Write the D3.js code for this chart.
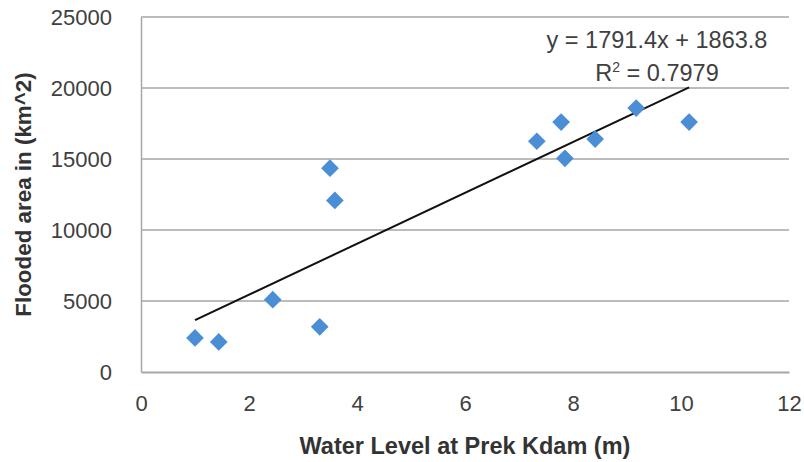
<!DOCTYPE html>
<html>
<head>
<meta charset="utf-8">
<script src="https://cdn.jsdelivr.net/npm/d3@7"></script>
<style>
  body { margin: 0; background: #fff; }
  text { font-family: "Liberation Sans", Arial, sans-serif; }
</style>
</head>
<body>
<div id="plot"></div>
<script>
const width = 804;
const height = 462;
const margin = { top: 17, right: 15, bottom: 90, left: 141 };

// Water level (m) vs flooded area (km^2)
const waterLevel = [1.0, 1.44, 2.44, 3.31, 3.5, 3.59, 7.33, 7.78, 7.85, 8.41, 9.17, 10.15];
const floodedArea = [2400, 2120, 5090, 3180, 14350, 12085, 16250, 17600, 15050, 16400, 18590, 17600];

const xTicks = [0, 2, 4, 6, 8, 10, 12];
const yTicks = [0, 5000, 10000, 15000, 20000, 25000];

// trendline reported in the chart
const slope = 1791.4;
const intercept = 1863.8;
const eqLabel = "y = 1791.4x + 1863.8";
const r2Label = "0.7979";

const svg = d3.select("#plot").append("svg").attr("width", width).attr("height", height);

const x = d3.scaleLinear().domain([0, 12]).range([margin.left, width - margin.right]);
const y = d3.scaleLinear().domain([0, 25000]).range([height - margin.bottom, margin.top]);

// gridlines
svg.append("g")
    .selectAll("line")
    .data(yTicks.slice(1))
    .enter().append("line")
    .attr("x1", x(0)).attr("x2", x(12))
    .attr("y1", d => y(d)).attr("y2", d => y(d))
    .attr("stroke", "#a6a6a6")
    .attr("stroke-width", 1.5);

// y axis
const yAxis = svg.append("g")
    .attr("transform", `translate(${x(0)},0)`)
    .call(d3.axisLeft(y).tickValues(yTicks).tickFormat(d3.format("d")).tickSize(0).tickPadding(29));
yAxis.select(".domain").attr("stroke", "#a6a6a6").attr("stroke-width", 1.5);
yAxis.selectAll("text").attr("font-size", 22).attr("fill", "#404040")
    .attr("font-family", "Liberation Sans, Arial, sans-serif");

// x axis
const xAxis = svg.append("g")
    .attr("transform", `translate(0,${y(0)})`)
    .call(d3.axisBottom(x).tickValues(xTicks).tickSize(0).tickPadding(23));
xAxis.select(".domain").attr("stroke", "#a6a6a6").attr("stroke-width", 2);
xAxis.selectAll("text").attr("font-size", 22).attr("fill", "#404040")
    .attr("font-family", "Liberation Sans, Arial, sans-serif");

// trend line
const xMin = d3.min(waterLevel), xMax = d3.max(waterLevel);
svg.append("line")
    .attr("x1", x(xMin)).attr("y1", y(slope * xMin + intercept))
    .attr("x2", x(xMax)).attr("y2", y(slope * xMax + intercept))
    .attr("stroke", "#111")
    .attr("stroke-width", 2);

// points
const pts = waterLevel.map((v, i) => ({ x: v, y: floodedArea[i] }));
svg.selectAll(".dot").data(pts).enter()
    .append("path")
    .attr("class", "dot")
    .attr("d", d3.symbol().type(d3.symbolDiamond2).size(200))
    .attr("transform", d => `translate(${x(d.x)},${y(d.y)})`)
    .attr("fill", "#4a8fd6");

// equation
svg.append("text")
    .attr("x", 657).attr("y", 48)
    .attr("text-anchor", "middle")
    .attr("font-size", 23.5)
    .attr("fill", "#404040")
    .text(eqLabel);

const r2 = svg.append("text")
    .attr("x", 657).attr("y", 81)
    .attr("text-anchor", "middle")
    .attr("font-size", 23.5)
    .attr("fill", "#404040");
r2.append("tspan").text("R");
r2.append("tspan").attr("font-size", 14).attr("dy", -9).text("2");
r2.append("tspan").attr("dy", 9).text(" = " + r2Label);

// axis titles
svg.append("text")
    .attr("x", (x(0) + x(12)) / 2).attr("y", 454)
    .attr("text-anchor", "middle")
    .attr("font-size", 23.5)
    .attr("font-weight", "bold")
    .attr("fill", "#333")
    .text("Water Level at Prek Kdam (m)");

svg.append("text")
    .attr("transform", `translate(31,${(y(0) + y(25000)) / 2}) rotate(-90)`)
    .attr("text-anchor", "middle")
    .attr("font-size", 22.4)
    .attr("font-weight", "bold")
    .attr("fill", "#333")
    .text("Flooded area in  (km^2)");
</script>
</body>
</html>
